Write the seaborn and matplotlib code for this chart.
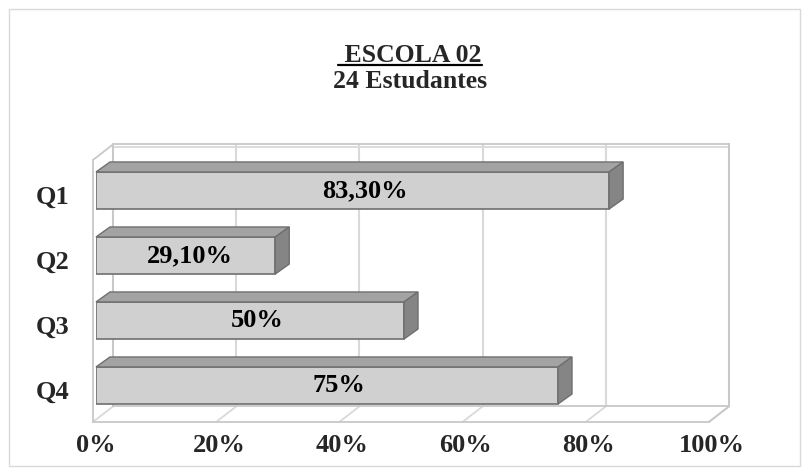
import matplotlib
matplotlib.use('Agg')
import matplotlib.pyplot as plt
import seaborn as sns
import pandas as pd
from matplotlib.patches import Polygon, Rectangle
from matplotlib.lines import Line2D
from matplotlib.transforms import ScaledTranslation

categories = ['Q1', 'Q2', 'Q3', 'Q4']
values = [83.3, 29.1, 50, 75]
value_labels = ['83,30%', '29,10%', '50%', '75%']
x_ticks = [0, 20, 40, 60, 80, 100]
x_tick_labels = ['0%', '20%', '40%', '60%', '80%', '100%']
title_line1 = ' ESCOLA 02'
title_line2 = '24 Estudantes'

sns.set_theme(style='white')
plt.rcParams['font.family'] = ['Liberation Serif', 'DejaVu Serif']
plt.rcParams['font.weight'] = 'bold'

W, H = 810, 475
fig = plt.figure(figsize=(W / 100, H / 100), dpi=100)
fig.patch.set_facecolor('white')
ax = fig.add_axes([96 / W, (H - 424.5) / H, 616 / W, 266.5 / H])
ax.set_facecolor('none')

df = pd.DataFrame({'q': categories, 'v': values})
sns.barplot(data=df, x='v', y='q', orient='h', width=0.57, color='#d0d0d0',
            edgecolor='#6f6f6f', linewidth=1.2, saturation=1, ax=ax, zorder=3)
ax.set_xlim(0, 100)
ax.set_ylim(3.6, -0.5)

# pixel scales
pos = ax.get_position()
sx = pos.width * W / 100.0
sy = pos.height * H / 4.1

# 3D faces on bars
bdx, bdy = 14 / sx, 10 / sy
for p, lab in zip(ax.patches, value_labels):
    x0, y0, w, h = p.get_x(), p.get_y(), p.get_width(), p.get_height()
    top = Polygon([(x0, y0), (x0 + w, y0), (x0 + w + bdx, y0 - bdy), (x0 + bdx, y0 - bdy)],
                  closed=True, facecolor='#a3a3a3', edgecolor='#6f6f6f', lw=1.0, zorder=3, clip_on=False)
    side = Polygon([(x0 + w, y0), (x0 + w, y0 + h), (x0 + w + bdx, y0 + h - bdy), (x0 + w + bdx, y0 - bdy)],
                   closed=True, facecolor='#858585', edgecolor='#6f6f6f', lw=1.0, zorder=3, clip_on=False)
    ax.add_patch(top)
    ax.add_patch(side)
    ax.text(x0 + w * 0.525, y0 + h / 2, lab, ha='center', va='center', fontsize=19,
            fontweight='bold', color='black', zorder=5)

# walls
wdx, wdy = 20 / sx, 15.5 / sy
ox = -3 / sx
yf = 3.56
yt_front = -0.47
yt_back = yt_front - wdy
yb_back = yf - wdy
wall_c = '#c8c8c8'
grid_c = '#d9d9d9'
def line(xs, ys, c=wall_c, lw=1.3, z=1):
    ax.add_line(Line2D(xs, ys, color=c, lw=lw, zorder=z, clip_on=False))

for t in x_ticks:
    line([t + ox + wdx, t + ox + wdx], [yt_back, yb_back], c=grid_c, lw=1.5)
    line([t + ox, t + ox + wdx], [yf, yb_back], c=grid_c, lw=1.3)
# back wall outline (with slab thickness on top)
line([ox + wdx, 100 + ox + wdx], [yt_back, yt_back])
line([ox + wdx, 100 + ox + wdx], [yt_back + 3 / sy, yt_back + 3 / sy], c=grid_c)
line([ox + wdx, 100 + ox + wdx], [yb_back, yb_back])
line([100 + ox + wdx, 100 + ox + wdx], [yt_back, yb_back])
# left wall
line([ox, ox], [yt_front, yf])
line([ox, ox + wdx], [yt_front, yt_back])
line([ox + wdx, ox + wdx], [yt_back, yb_back])
# floor
line([ox, 100 + ox], [yf, yf])
line([100 + ox, 100 + ox + wdx], [yf, yb_back])

# axes styling
for s in ax.spines.values():
    s.set_visible(False)
ax.set_xlabel('')
ax.set_ylabel('')
ax.set_xticks(x_ticks)
ax.set_xticklabels(x_tick_labels, fontsize=19, fontweight='bold')
ax.set_yticks(range(len(categories)))
ax.set_yticklabels(categories, fontsize=19, fontweight='bold')
ax.tick_params(axis='x', length=0, pad=7)
ax.tick_params(axis='y', length=0, pad=19)
for lbl in ax.get_yticklabels():
    lbl.set_transform(lbl.get_transform() + ScaledTranslation(0, -4.5 / 100, fig.dpi_scale_trans))

# outer border
fig.add_artist(Rectangle((9 / W, 9 / H), 791 / W, 457 / H, transform=fig.transFigure,
                         fill=False, edgecolor='#d9d9d9', lw=1.0))

# title
t1 = fig.text(410 / W, 1 - 55 / H, title_line1, ha='center', va='center', fontsize=18.5, fontweight='bold')
fig.text(410 / W, 1 - 82 / H, title_line2, ha='center', va='center', fontsize=18.5, fontweight='bold')
fig.canvas.draw()
bb = t1.get_window_extent()
fig.add_artist(Line2D([bb.x0 / W, bb.x1 / W], [(bb.y0 + 2) / H, (bb.y0 + 2) / H],
                      transform=fig.transFigure, color='black', lw=1.6))

fig.savefig('out.png', dpi=100)
